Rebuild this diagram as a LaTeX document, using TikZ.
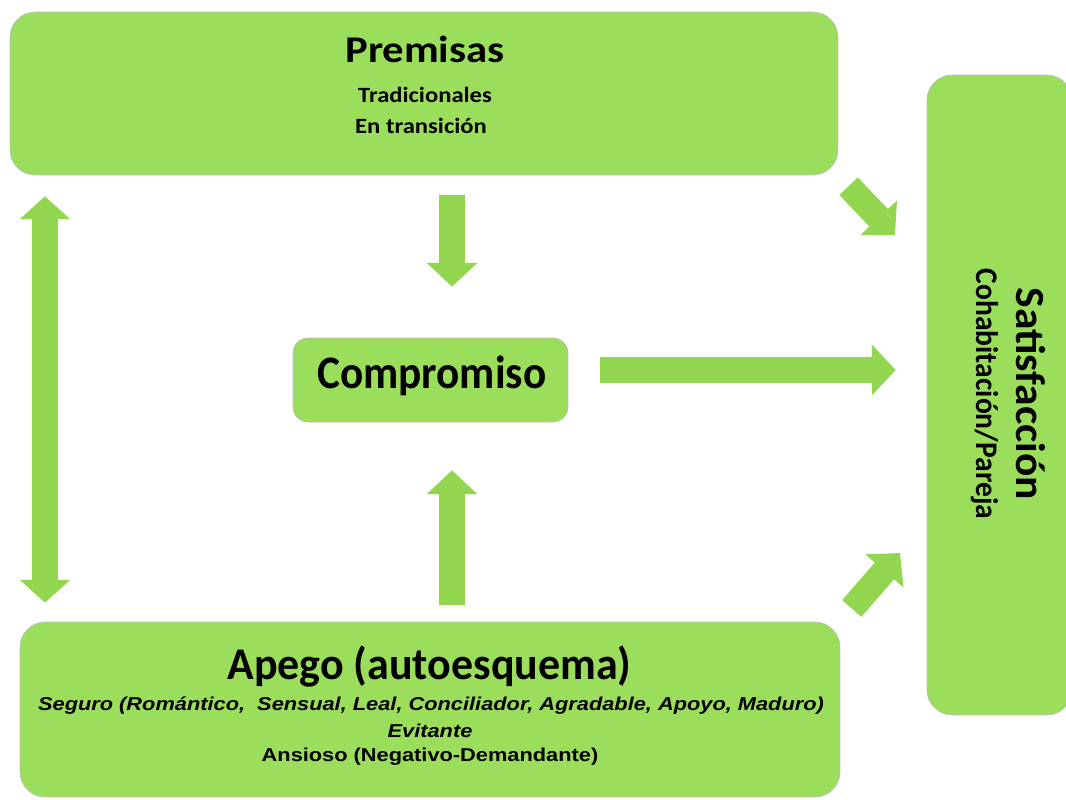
\documentclass[tikz,border=0pt]{standalone}
\usepackage{fontspec}
\setmainfont{Carlito}
\newfontfamily\arialf{Liberation Sans}
\usetikzlibrary{arrows.meta,calc}
\definecolor{boxgreen}{RGB}{155,222,92}
\definecolor{arrowgreen}{RGB}{145,214,78}
\newcommand{\wide}[2]{\scalebox{#1}[1]{#2}}
\tikzset{
	box/.style={
			draw=black!25, line width=0.4pt, fill=boxgreen,
			rounded corners=0.5cm, inner sep=0pt
		},
	txt/.style={anchor=base, inner sep=0pt, font=\bfseries},
	fatarrow/.style={
			draw=arrowgreen, line width=14.5pt,
			-{Triangle[width=28pt,length=13.5pt]}
		},
	fatdouble/.style={
			draw=arrowgreen, line width=15pt,
			{Triangle[width=28pt,length=13pt]}-{Triangle[width=28pt,length=13pt]}
		}
}

\begin{document}
\begin{tikzpicture}[x=0.02cm, y=-0.02cm]
        \useasboundingbox (0,0) rectangle (1066,799);

        % boxes
        \node[box, minimum width=16.56cm, minimum height=3.26cm] (prem) at (424,93.5) {};
        \node[box, minimum width=2.9cm, minimum height=12.8cm] (sat) at (999.5,395) {};
        \node[box, rounded corners=0.3cm, minimum width=5.5cm, minimum height=1.68cm] (comp) at (430.5,380) {};
        \node[box, minimum width=16.4cm, minimum height=3.5cm] (apego) at (430,709.5) {};

        % texts
        \node[txt] (premt) at (425,62.7) {\fontsize{21.5}{24}\selectfont\wide{1.13}{Premisas}};
        \node[txt] (premt1) at (425,102.3) {\fontsize{12.4}{15}\selectfont\wide{1.13}{Tradicionales}};
        \node[txt] (premt2) at (421,133) {\fontsize{12.4}{15}\selectfont\wide{1.13}{En transición}};
        \node[txt, rotate=-90] (satt) at (1016.7,394) {\fontsize{23.6}{26}\selectfont\wide{1.05}{Satisfacción}};
        \node[txt, rotate=-90] (satt1) at (976.7,394) {\fontsize{17.9}{20}\selectfont\wide{0.94}{Cohabitación/Pareja}};
        \node[txt] (compt) at (431.7,388.3) {\fontsize{26.5}{29}\selectfont\wide{0.93}{Compromiso}};
        \node[txt] (apegot) at (429.5,679.3) {\fontsize{25.8}{28}\selectfont\wide{0.97}{Apego (autoesquema)}};
        \node[txt, font=\arialf\bfseries\itshape] (apegot1) at (431,710)
            {\fontsize{10.6}{13}\selectfont\wide{1.17}{Seguro (Romántico,\ \ Sensual, Leal, Conciliador, Agradable, Apoyo, Maduro)}};
        \node[txt, font=\arialf\bfseries\itshape] (apegot2) at (430,737.3) {\fontsize{10.6}{13}\selectfont\wide{1.17}{Evitante}};
        \node[txt, font=\arialf\bfseries] (apegot3) at (430,761.7) {\fontsize{10.6}{13}\selectfont\wide{1.17}{Ansioso (Negativo-Demandante)}};

        % arrows
        \coordinate (lft) at (45,0);
        \coordinate (mid) at (452,0);
        \coordinate (row) at (0,370);
        \coordinate (t1) at (895,235);
        \coordinate (t2) at (900,553);
        \draw[fatdouble, shorten <=0.42cm, shorten >=0.38cm] (prem.south -| lft) -- (apego.north -| lft);
        \draw[fatarrow, shorten <=0.4cm, shorten >=1.02cm] (prem.south -| mid) -- (comp.north -| mid);
        \draw[fatarrow, shorten <=0.34cm, shorten >=0.96cm] (apego.north -| mid) -- (comp.south -| mid);
        \draw[fatarrow, shorten <=0.64cm, shorten >=0.62cm] (comp.east |- row) -- (sat.west |- row);
        \draw[fatarrow, shorten <=0.3cm] (prem.south east) -- (t1);
        \draw[fatarrow, shorten <=0.35cm] (apego.north east) -- (t2);
    \end{tikzpicture}
\end{document}
